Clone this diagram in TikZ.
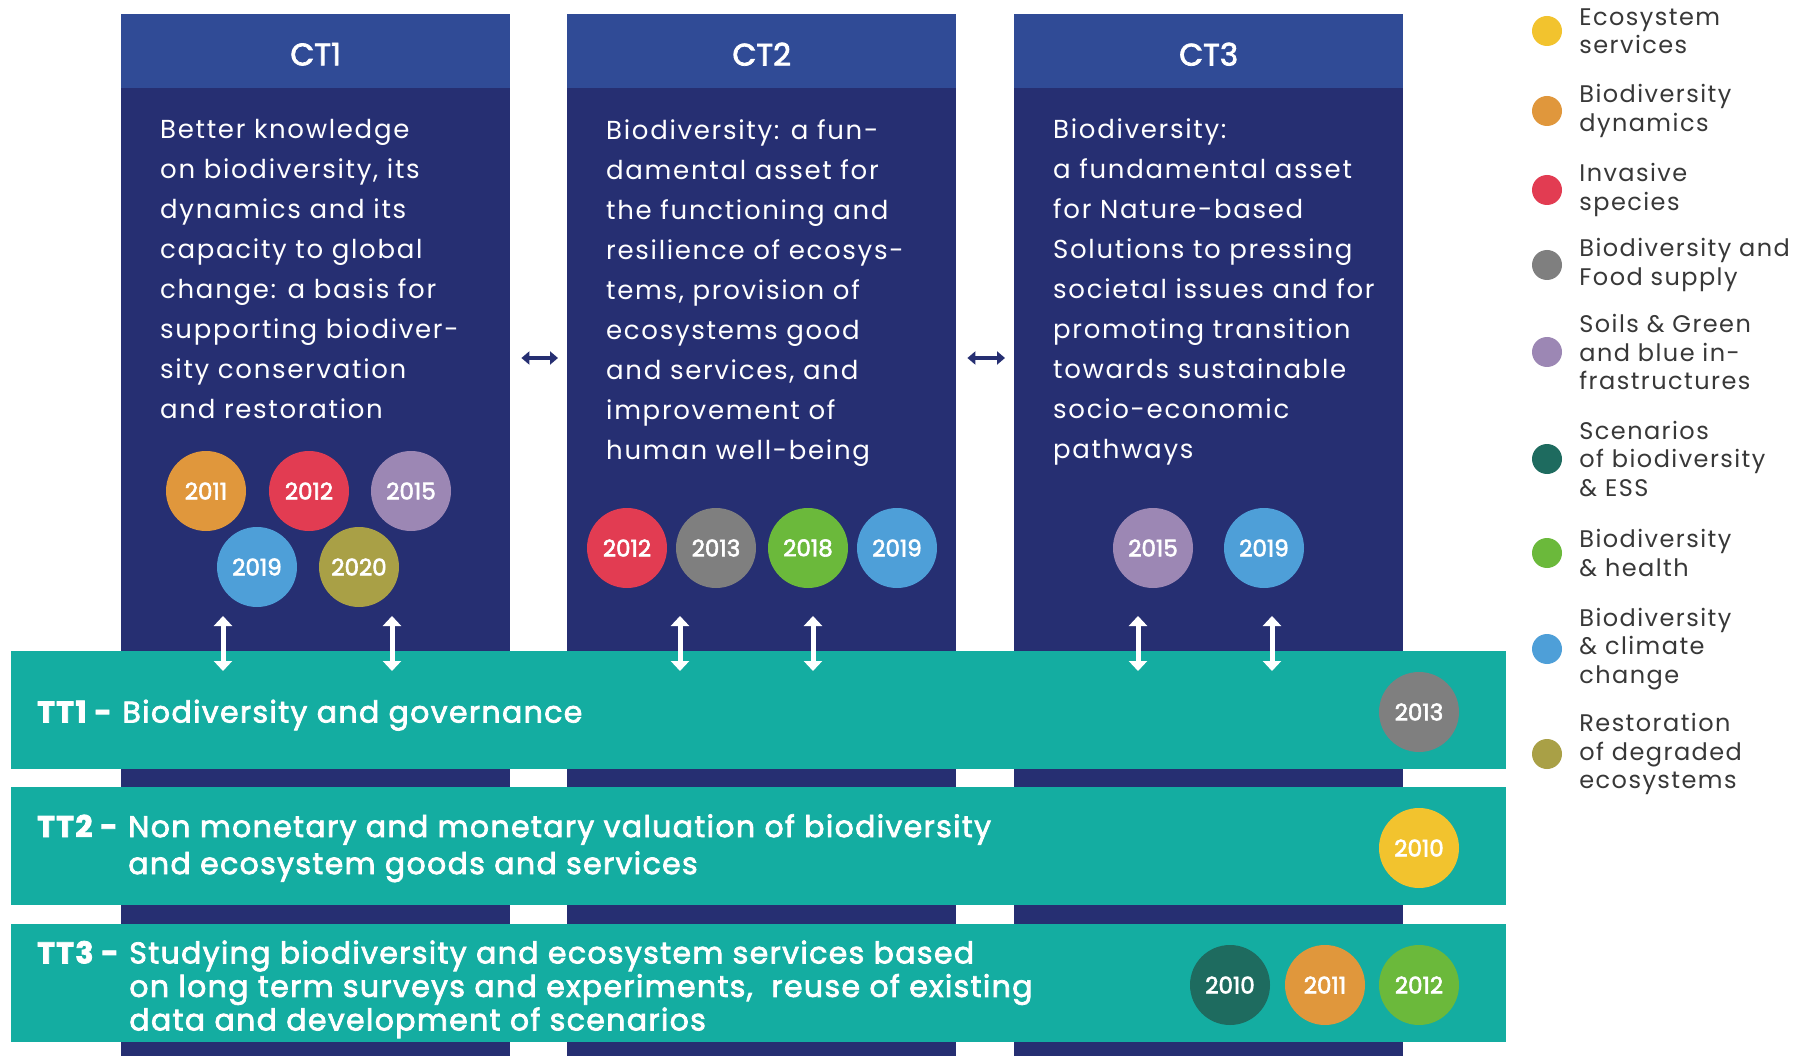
\documentclass[tikz,border=0pt]{standalone}
\usepackage{fontspec}
\setmainfont{Poppins}
\newfontfamily\medfont{Poppins}[FakeBold=2.5]
\usetikzlibrary{arrows.meta,positioning}

\definecolor{navy}{HTML}{262F72}
\definecolor{navyhead}{HTML}{304B96}
\definecolor{teal}{HTML}{14ADA1}
\definecolor{legtxt}{HTML}{383838}
\definecolor{cEss}{HTML}{F2C32E}
\definecolor{cDyn}{HTML}{E0973C}
\definecolor{cInv}{HTML}{E23C52}
\definecolor{cFood}{HTML}{7F7F7F}
\definecolor{cSoil}{HTML}{9C87B4}
\definecolor{cScen}{HTML}{1E6B5F}
\definecolor{cHealth}{HTML}{6BB93B}
\definecolor{cClim}{HTML}{4E9FD8}
\definecolor{cRest}{HTML}{A9A046}

\tikzset{
  col/.style={fill=navy, anchor=north west, inner sep=0pt, minimum width=389pt, minimum height=1042pt},
  colhead/.style={fill=navyhead, anchor=north west, inner sep=0pt, minimum width=389pt, minimum height=74pt},
  coltitle/.style={inner sep=0pt, text=white, font=\fontsize{31}{31}\medfont},
  coltext/.style={anchor=north west, inner sep=0pt, align=left, text=white,
    font=\fontsize{26}{40}\selectfont\addfontfeatures{LetterSpace=6.5}},
  yr/.style={circle, fill=#1, inner sep=0pt, minimum size=80pt, text=white, font=\fontsize{23}{23}\medfont},
  band/.style={fill=teal, anchor=north west, inner sep=0pt, minimum width=1495pt, minimum height=118pt},
  bandtext/.style={anchor=west, inner sep=0pt, text=white,
    font=\fontsize{30}{37}\medfont\addfontfeatures{LetterSpace=4.5}},
  legdot/.style={circle, fill=#1, inner sep=0pt, minimum size=30pt},
  legtext/.style={inner sep=0pt, align=left, text=legtxt,
    font=\fontsize{24}{28.3}\selectfont\addfontfeatures{LetterSpace=6}},
  varrow/.style={white, line width=5pt, {Triangle[width=18pt,length=10pt]}-{Triangle[width=18pt,length=10pt]}},
  harrow/.style={navy, line width=3.5pt, {Triangle[width=13pt,length=8pt]}-{Triangle[width=13pt,length=8pt]},
    shorten <=11pt, shorten >=9pt}
}

\begin{document}
\begin{tikzpicture}[x=1pt, y=-1pt]
  % Page
  \path[fill=white, use as bounding box] (0,0) rectangle (1794,1056);

  % Cross-cutting themes
  \foreach \n/\x in {1/121, 2/567, 3/1014} {
    \node[col] (ct\n) at (\x,14) {};
    \node[colhead] (ct\n h) at (\x,14) {};
    \node[coltitle] (ct\n n) at ([yshift=-3pt]ct\n h.center) {CT\n};
  }

  \node[coltext] (ct1t) at (160,119) {Better knowledge\\on biodiversity, its\\dynamics and its\\capacity to global\\change: a basis for\\supporting biodiver-\\sity conservation\\and restoration};
  \node[coltext] (ct2t) at (606,119) {Biodiversity: a fun-\\damental asset for\\the functioning and\\resilience of ecosys-\\tems, provision of\\ecosystems good\\and services, and\\improvement of\\human well-being};
  \node[coltext] (ct3t) at (1053,119) {Biodiversity:\\a fundamental asset\\for Nature-based\\Solutions to pressing\\societal issues and for\\promoting transition\\towards sustainable\\socio-economic\\pathways};

  % Links between themes
  \draw[harrow] (ct1.east |- 0,358) -- (ct2.west |- 0,358);
  \draw[harrow] (ct2.east |- 0,358) -- (ct3.west |- 0,358);

  % Years of the themes
  \node[yr=cDyn] (y11) at (206,491) {2011};
  \node[yr=cInv] (y12) at (309,491) {2012};
  \node[yr=cSoil] (y13) at (411,491) {2015};
  \node[yr=cClim] (y14) at (257,567) {2019};
  \node[yr=cRest] (y15) at (359,567) {2020};

  \node[yr=cInv] (y21) at (627,548) {2012};
  \node[yr=cFood] (y22) at (716,548) {2013};
  \node[yr=cHealth] (y23) at (808,548) {2018};
  \node[yr=cClim] (y24) at (897,548) {2019};

  \node[yr=cSoil] (y31) at (1153,548) {2015};
  \node[yr=cClim] (y32) at (1264,548) {2019};

  % Transversal themes
  \node[band] (tt1) at (11,651) {};
  \node[band] (tt2) at (11,787) {};
  \node[band] (tt3) at (11,924) {};

  \node[bandtext] (tt1t) at ([xshift=26pt,yshift=-5pt]tt1.west) {\textbf{TT1 -} Biodiversity and governance};
  \node[bandtext] (tt2t) at ([xshift=26pt,yshift=-2pt]tt2.west) {\begin{tabular}{@{}l@{ }l@{}}\textbf{TT2 -}&Non monetary and monetary valuation of biodiversity\\&and ecosystem goods and services\end{tabular}};
  \node[bandtext, font=\fontsize{30}{33.5}\medfont\addfontfeatures{LetterSpace=4.5}] (tt3t) at ([xshift=26pt,yshift=-7pt]tt3.west) {\begin{tabular}{@{}l@{ }l@{}}\textbf{TT3 -}&Studying biodiversity and ecosystem services based\\&on long term surveys and experiments,\ \ reuse of existing\\&data and development of scenarios\end{tabular}};

  \node[yr=cFood] (b11) at (1419,712) {2013};
  \node[yr=cEss] (b21) at (1419,848) {2010};
  \node[yr=cScen] (b31) at (1230,985) {2010};
  \node[yr=cDyn] (b32) at (1325,985) {2011};
  \node[yr=cHealth] (b33) at (1419,985) {2012};

  % Links to the transversal themes
  \foreach \x [count=\i] in {223,392,680,813,1138,1272} {
    \coordinate (up\i) at (\x,616);
    \coordinate (dn\i) at (\x,671);
    \draw[varrow] (up\i) -- (dn\i);
  }

  % Legend
  \foreach \c/\t/\y [count=\i] in {cEss/{Ecosystem\\services}/31, cDyn/{Biodiversity\\dynamics}/111,
      cInv/{Invasive\\species}/190, cFood/{Biodiversity and\\Food supply}/265,
      cSoil/{Soils \& Green\\and blue in-\\frastructures}/352, cScen/{Scenarios\\of biodiversity\\\& ESS}/459,
      cHealth/{Biodiversity\\\& health}/553, cClim/{Biodiversity\\\& climate\\change}/649,
      cRest/{Restoration\\of degraded\\ecosystems}/754} {
    \node[legdot=\c] (leg\i) at (1547,\y) {};
    \node[legtext, right=17pt of leg\i] (legt\i) {\t};
  }
\end{tikzpicture}
\end{document}
